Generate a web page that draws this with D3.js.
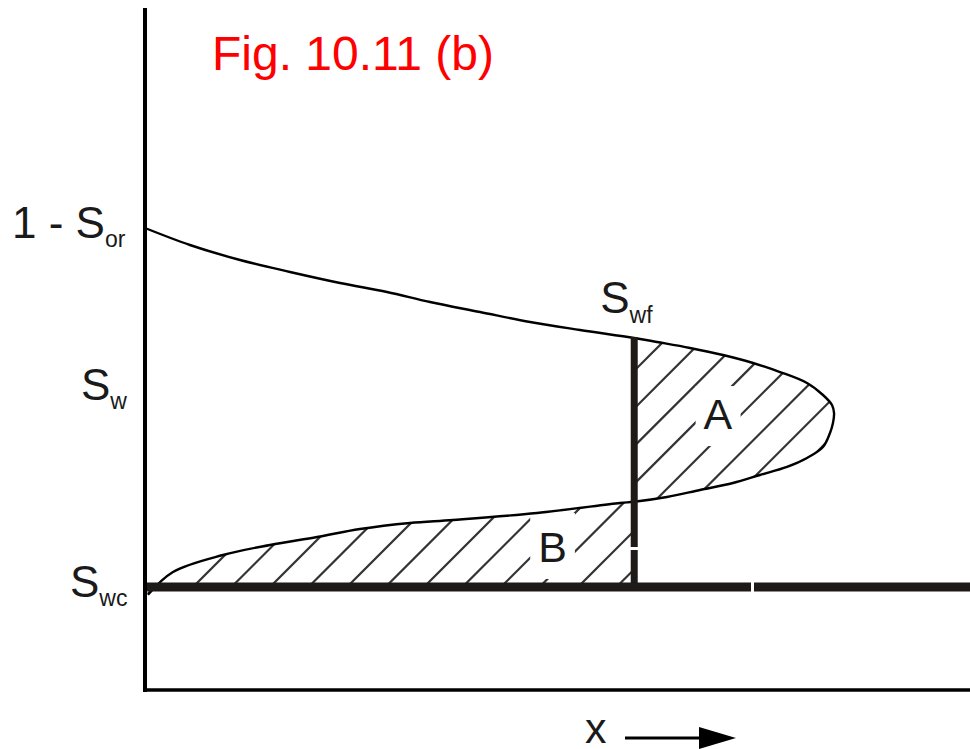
<!DOCTYPE html>
<html>
<head>
<meta charset="utf-8">
<script src="https://cdn.jsdelivr.net/npm/d3@7"></script>
<style>
  html, body { margin: 0; padding: 0; background: #fff; }
  svg { display: block; }
  text { font-family: "Liberation Sans", Arial, sans-serif; }
</style>
</head>
<body>
<svg id="chart" width="970" height="749"></svg>
<script>
// Buckley-Leverett saturation profile Sw(x), including the triple-valued
// part that the shock front at x = frontX replaces (areas A and B equal).
const profileX = [
  0.0000, 0.0545, 0.1152, 0.1758, 0.2364, 0.2933, 0.3455, 0.4061, 0.4667, 0.5273, 0.5930,
  0.6206, 0.6606, 0.7006, 0.7370, 0.7697, 0.8024, 0.8218, 0.8327, 0.8352, 0.8339, 0.8303,
  0.8218, 0.8024, 0.7782, 0.7455, 0.7127, 0.6727, 0.6327, 0.5930,
  0.5758, 0.4752, 0.3733, 0.3212, 0.2606, 0.2085, 0.1515, 0.0945, 0.0339, 0.0036
];
const profileSw = [
  0.8000, 0.7716, 0.7465, 0.7265, 0.7081, 0.6931, 0.6763, 0.6596, 0.6429, 0.6296, 0.6162,
  0.6095, 0.5995, 0.5877, 0.5744, 0.5593, 0.5409, 0.5209, 0.5042, 0.4908, 0.4741, 0.4574,
  0.4340, 0.4156, 0.4006, 0.3872, 0.3738, 0.3621, 0.3504, 0.3425,
  0.3404, 0.3237, 0.3120, 0.3070, 0.2969, 0.2836, 0.2702, 0.2535, 0.2251, 0.1870
];

const swc = 0.2;          // connate water saturation
const oneMinusSor = 0.8;  // 1 - residual oil saturation
const frontX = 0.593;     // shock front position
const frontSw = 0.6162;   // saturation at the front, Swf

// Saturation labels on the vertical axis
const yLabelMain = ["1 - S", "S", "S"];
const yLabelSub = ["or", "w", "wc"];
const yLabelSw = [oneMinusSor, 0.53, swc];

const titleText = "Fig. 10.11 (b)";

const svg = d3.select("#chart");
const W = 970, H = 749;
const axisLeft = 145, axisBottom = 690, axisTop = 8;

const x = d3.scaleLinear().domain([0, 1]).range([axisLeft, W]);
const y = d3.scaleLinear().domain([swc, oneMinusSor]).range([587, 228]);

const pts = profileX.map((d, i) => [d, profileSw[i]]);
const line = d3.line()
  .x(d => x(d[0]))
  .y(d => y(d[1]))
  .curve(d3.curveCatmullRom.alpha(0.5));

const iTop = profileX.indexOf(frontX);
const iBot = profileX.lastIndexOf(frontX);

// clip regions for the two hatched areas
const defs = svg.append("defs");
defs.append("clipPath").attr("id", "clipA")
  .append("path")
  .attr("d", line(pts.slice(iTop, iBot + 1)) + "Z");
defs.append("clipPath").attr("id", "clipB")
  .append("path")
  .attr("d", line(pts.slice(iBot)) +
    `L${x(0)},${y(swc)}L${x(frontX)},${y(swc)}Z`);

// diagonal hatching, lines of the form px + py = c
function hatch(clipId, c0, step) {
  const g = svg.append("g").attr("clip-path", `url(#${clipId})`);
  const cs = [];
  for (let c = c0 - step * 30; c < 2000; c += step) cs.push(c);
  g.selectAll("line").data(cs).join("line")
    .attr("x1", c => c).attr("y1", 0)
    .attr("x2", c => c - H).attr("y2", H)
    .attr("stroke", "#333")
    .attr("stroke-width", 2.2);
}
hatch("clipA", 1005, 37.7);
hatch("clipB", 780, 38.5);

// area labels with a knocked-out background
function areaLabel(txt, xv, swv, padY) {
  const g = svg.append("g");
  const t = g.append("text")
    .attr("x", x(xv)).attr("y", y(swv))
    .attr("text-anchor", "middle")
    .attr("font-size", 43)
    .attr("fill", "#1a1a1a")
    .text(txt);
  const b = t.node().getBBox();
  g.insert("rect", "text")
    .attr("x", b.x - 8).attr("y", b.y - padY)
    .attr("width", b.width + 16).attr("height", b.height + padY + 8)
    .attr("fill", "#fff");
}
areaLabel("A", 0.6945, 0.464, 4);
areaLabel("B", 0.494, 0.2418, 10);

// saturation profile curve
svg.append("path")
  .attr("d", line(pts))
  .attr("fill", "none")
  .attr("stroke", "#000")
  .attr("stroke-width", 2.4);

// Swc level and shock front (thick lines)
svg.append("line")
  .attr("x1", x(0) - 2).attr("x2", W)
  .attr("y1", y(swc)).attr("y2", y(swc))
  .attr("stroke", "#1e1a17").attr("stroke-width", 9)
  .attr("stroke-dasharray", "608 3 1000");
svg.append("line")
  .attr("x1", x(frontX)).attr("x2", x(frontX))
  .attr("y1", y(frontSw) - 1).attr("y2", y(swc))
  .attr("stroke", "#1e1a17").attr("stroke-width", 7)
  .attr("stroke-dasharray", "210 3 1000");

// axes frame
svg.append("line")
  .attr("x1", axisLeft).attr("x2", axisLeft)
  .attr("y1", axisTop).attr("y2", axisBottom + 2)
  .attr("stroke", "#000").attr("stroke-width", 4);
svg.append("line")
  .attr("x1", axisLeft - 2).attr("x2", W)
  .attr("y1", axisBottom).attr("y2", axisBottom)
  .attr("stroke", "#000").attr("stroke-width", 3.5);

// vertical axis labels
const labelX = [12, 81, 70];
yLabelMain.forEach((m, i) => {
  const t = svg.append("text")
    .attr("x", labelX[i])
    .attr("y", y(yLabelSw[i]) + 10)
    .attr("font-size", 44)
    .attr("fill", "#1a1a1a");
  t.append("tspan").text(m);
  t.append("tspan").attr("dy", 9).attr("font-size", 23).text(yLabelSub[i]);
});

// Swf label above the front
const tf = svg.append("text")
  .attr("x", x(frontX) - 34)
  .attr("y", y(frontSw) - 25)
  .attr("font-size", 44)
  .attr("fill", "#1a1a1a");
tf.append("tspan").text("S");
tf.append("tspan").attr("dy", 10).attr("font-size", 23).text("wf");

// x label with arrow
svg.append("text")
  .attr("x", 585).attr("y", 743)
  .attr("font-size", 43)
  .attr("fill", "#1a1a1a")
  .text("x");
svg.append("line")
  .attr("x1", 625).attr("x2", 702)
  .attr("y1", 738).attr("y2", 738)
  .attr("stroke", "#000").attr("stroke-width", 3);
svg.append("path")
  .attr("d", "M699,727 L736,738 L699,749 Z")
  .attr("fill", "#000");

// title
svg.append("text")
  .attr("x", 212).attr("y", 70)
  .attr("font-size", 48)
  .attr("fill", "#ff0000")
  .text(titleText);
</script>
</body>
</html>
